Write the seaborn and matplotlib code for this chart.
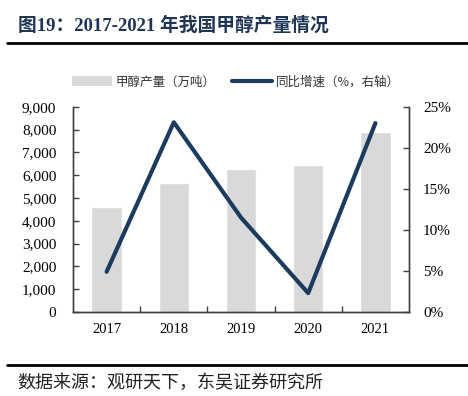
import numpy as np
import pandas as pd
import seaborn as sns
import matplotlib
matplotlib.use("Agg")
import matplotlib.pyplot as plt
from matplotlib.lines import Line2D
from matplotlib.patches import Patch
from matplotlib.ticker import FuncFormatter, FixedLocator

years = ["2017", "2018", "2019", "2020", "2021"]
production = [4590, 5640, 6270, 6430, 7870]   # 万吨
growth = [4.9, 23.1, 11.5, 2.3, 23.0]          # %

sns.set_theme(style="white")
plt.rcParams['font.family'] = ['Liberation Serif', 'Noto Sans CJK SC', 'DejaVu Sans']

navy = "#1B3B5F"
bar_c = "#D9D9D9"
spine_c = "#404040"

fig = plt.figure(figsize=(4.68, 3.96), dpi=100)
ax = fig.add_axes([73/468, 1-312/396, (409-73)/468, (312-106.7)/396])

df = pd.DataFrame({"year": years, "prod": production, "growth": growth})
sns.barplot(data=df, x="year", y="prod", color=bar_c, saturation=1, width=0.45, ax=ax)
ax.set_xlim(-0.5, 4.5)
ax.set_ylim(0, 9000)
ax.set_yticks(np.arange(0, 9001, 1000))
ax.yaxis.set_major_formatter(FuncFormatter(lambda v, p: f"{int(v):,}"))
ax.set_xlabel("")
ax.set_ylabel("")

ax2 = ax.twinx()
sns.pointplot(data=df, x="year", y="growth", color=navy, markers="", errorbar=None,
              lw=3, ax=ax2)
ax2.set_xlim(-0.5, 4.5)
ax2.set_ylim(0, 25)
ax2.set_yticks(np.arange(0, 26, 5))
ax2.yaxis.set_major_formatter(FuncFormatter(lambda v, p: f"{int(v)}%"))
ax2.set_xlabel("")
ax2.set_ylabel("")

for a in (ax, ax2):
    for s in a.spines.values():
        s.set_color(spine_c)
        s.set_linewidth(1)
    a.spines['top'].set_visible(False)
    a.grid(False)

ax.tick_params(axis='x', which='major', length=0, pad=8, labelsize=10.5, colors='black')
ax.xaxis.set_minor_locator(FixedLocator([0.5, 1.5, 2.5, 3.5]))
ax.tick_params(axis='x', which='minor', direction='in', length=4, width=1, color=spine_c, bottom=True)
ax.tick_params(axis='y', direction='in', length=4, width=1, color=spine_c, pad=12,
               labelsize=11, labelcolor='black', left=True)
ax2.tick_params(axis='y', direction='in', length=4, width=1, color=spine_c, pad=10,
                labelsize=11, labelcolor='black', right=True)

# title
fig.text(18/468, 1-26/396, "图19：2017-2021 年我国甲醇产量情况", fontsize=13.5, fontweight='bold',
         color="#1F3556", va='center', ha='left',
         family=['Liberation Serif', 'Noto Sans CJK SC'])
fig.add_artist(Line2D([7/468, 1.0], [1-42.7/396, 1-42.7/396], color='black', lw=2))
fig.add_artist(Line2D([7/468, 1.0], [1-365/396, 1-365/396], color='black', lw=2))
fig.text(17/468, 1-383/396, "数据来源：观研天下，东吴证券研究所", fontsize=13,
         color="#222222", va='center', ha='left', family=['Noto Sans CJK SC'])

handles = [Patch(facecolor=bar_c, edgecolor='none'),
           Line2D([0], [0], color=navy, lw=3)]
labels = ["甲醇产量（万吨）", "同比增速（%，右轴）"]
leg = fig.legend(handles, labels, loc='center', bbox_to_anchor=(236/468, 1-82/396),
                 ncol=2, frameon=False, prop={'family': ['Noto Sans CJK SC'], 'size': 9},
                 handlelength=3.2, handleheight=0.9, columnspacing=1.3, handletextpad=0.3)
for t in leg.get_texts():
    t.set_color("#333333")

fig.savefig("out.png", dpi=100)
